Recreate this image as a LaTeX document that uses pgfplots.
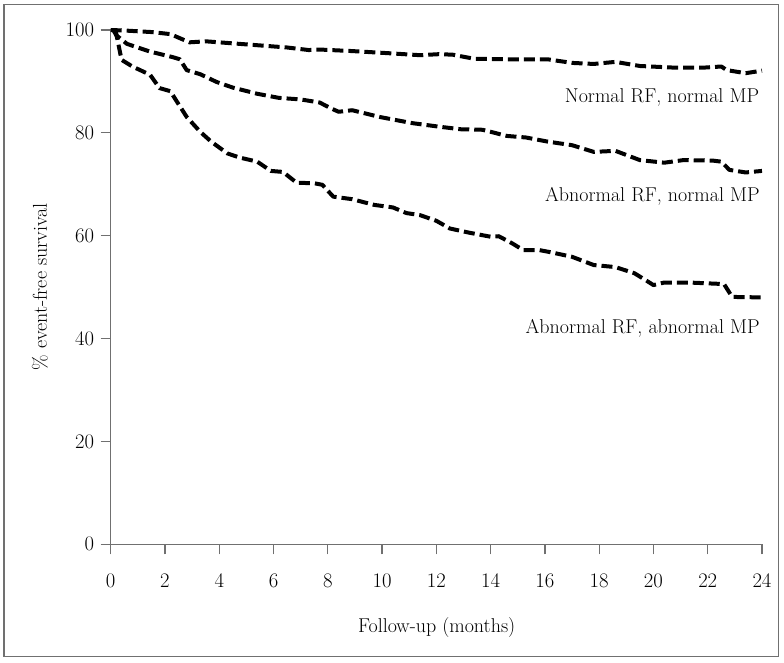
\documentclass[border=0pt]{standalone}
\usepackage{pgfplots}
\pgfplotsset{compat=1.18}
\definecolor{axgray}{HTML}{707070}
\pgfplotstableread{
m v
0 100
0.5 99.9
1.5 99.6
2.2 99.2
2.9 97.6
3.5 97.8
4.5 97.4
5.5 97.0
6.5 96.6
7.3 96.1
7.7 96.2
8.9 95.9
10.2 95.5
11.4 95.1
12.1 95.3
12.6 95.2
13.4 94.4
14.6 94.3
16.1 94.3
17.0 93.6
17.8 93.4
18.6 93.8
19.5 93.0
20.7 92.7
21.9 92.7
22.5 92.9
22.7 92.2
23.4 91.6
24 92.1
}\nrnm
\pgfplotstableread{
m v
0.1 100
0.2 99
0.6 97.3
1.45 95.8
2.3 94.7
2.55 94.3
2.8 92.2
3.3 91.4
3.9 89.9
4.5 88.8
5.4 87.6
6.2 86.8
7.0 86.5
7.7 85.9
8.1 84.8
8.4 84.1
8.9 84.4
9.9 83.1
11.1 81.9
12.1 81.2
12.9 80.7
13.7 80.6
14.6 79.4
15.3 79.1
16.1 78.3
17.0 77.6
17.8 76.3
18.6 76.5
19.5 74.7
20.4 74.2
21.1 74.7
22.2 74.6
22.5 74.4
22.8 72.8
23.4 72.3
24 72.6
}\arnm
\pgfplotstableread{
m v
0.1 100
0.2 99.4
0.4 94.2
0.8 92.9
1.45 91.3
1.8 88.7
2.2 88.1
2.4 86.4
2.8 83.1
3.3 80.2
3.7 78.3
4.3 76.0
4.75 75.2
5.4 74.4
5.9 72.6
6.35 72.4
6.85 70.3
7.5 70.2
7.8 69.9
8.2 67.6
8.9 67.1
9.7 66.0
10.4 65.5
10.9 64.4
11.4 64.0
12.0 62.9
12.5 61.4
13.2 60.6
14.0 59.8
14.3 59.9
14.8 58.5
15.2 57.2
15.8 57.2
16.2 56.8
17.0 55.9
17.8 54.3
18.6 53.9
19.3 52.7
19.7 51.4
20.0 50.4
20.4 50.9
21.3 50.9
22.6 50.6
22.9 48.1
24 48.0
}\aram
\tikzset{kmline/.style={black, line width=4bp, dash pattern=on 11bp off 5bp, line join=round, no markers}}
\begin{document}
\begin{tikzpicture}
\begin{axis}[
  at={(0,0)}, anchor=south west,
  scale only axis, width=651.3bp, height=514.3bp,
  xmin=0, xmax=24, ymin=0, ymax=100,
  axis x line*=bottom, axis y line*=left,
  axis line style={axgray, line width=1.2bp},
  xtick={0,2,...,24}, ytick={0,20,...,100},
  tick align=outside, major tick length=10bp,
  every tick/.style={axgray, line width=1.2bp},
  tick label style={font=\fontsize{22bp}{26bp}\selectfont},
  xticklabel style={yshift=-16bp},
  yticklabel style={xshift=-3bp},
  xlabel={Follow-up (months)}, ylabel={\% event-free survival},
  every axis x label/.style={at={(axis description cs:0.5005,-0.1719)}, anchor=base, inner sep=0pt, font=\fontsize{20bp}{24bp}\selectfont},
  every axis y label/.style={at={(axis description cs:-0.1086,0.5)}, anchor=center, rotate=90, font=\fontsize{20bp}{24bp}\selectfont},
  clip=false,
]
\addplot[kmline] table[x=m,y=v] {\nrnm};
\addplot[kmline] table[x=m,y=v] {\arnm};
\addplot[kmline] table[x=m,y=v] {\aram};
\node[anchor=base east, font=\fontsize{20bp}{24bp}\selectfont, inner sep=0pt] at (axis cs:23.9,85.9) {Normal RF, normal MP};
\node[anchor=base east, font=\fontsize{20bp}{24bp}\selectfont, inner sep=0pt] at (axis cs:23.92,66.6) {Abnormal RF, normal MP};
\node[anchor=base east, font=\fontsize{20bp}{24bp}\selectfont, inner sep=0pt] at (axis cs:23.92,41.0) {Abnormal RF, abnormal MP};
\end{axis}
\draw[axgray, line width=1.3bp] (-106.7bp,-112.4bp) rectangle (668bp,539.6bp);
\pgfresetboundingbox
\useasboundingbox (-110.7bp,-118.7bp) rectangle (673.3bp,544.3bp);
\end{tikzpicture}
\end{document}
